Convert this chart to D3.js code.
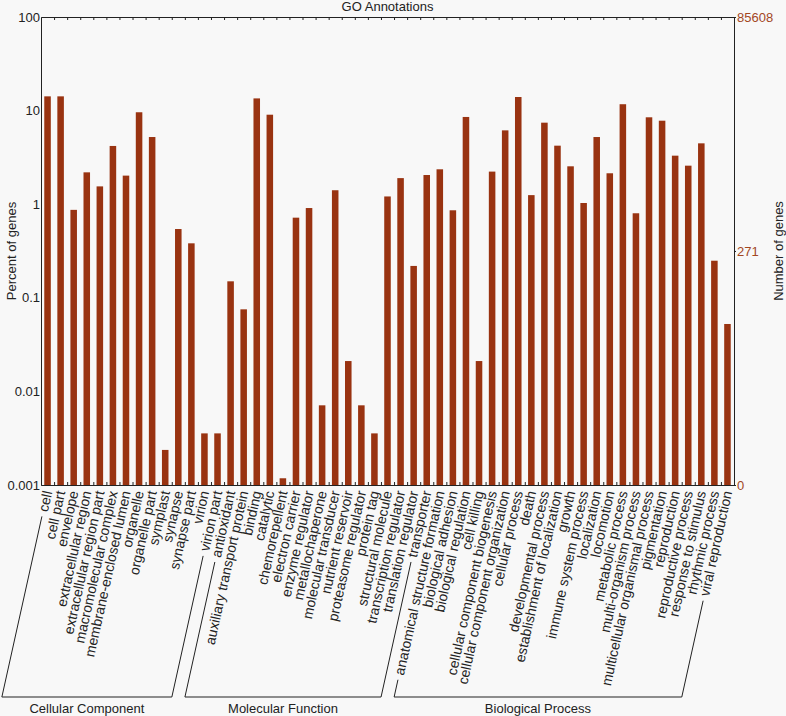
<!DOCTYPE html>
<html>
<head>
<meta charset="utf-8">
<script src="https://cdn.jsdelivr.net/npm/d3@7/dist/d3.min.js"></script>
<style>
  html, body { margin: 0; padding: 0; background: #f8f8f8; }
  svg { display: block; font-family: "Liberation Sans", Arial, Helvetica, sans-serif; }
</style>
</head>
<body>
<svg id="chart" width="786" height="716"></svg>
<script>
// ---------- data ----------
const categories = [
  "cell", "cell part", "envelope", "extracellular region", "extracellular region part",
  "macromolecular complex", "membrane-enclosed lumen", "organelle", "organelle part",
  "symplast", "synapse", "synapse part", "virion", "virion part",
  "antioxidant", "auxiliary transport protein", "binding", "catalytic", "chemorepellent",
  "electron carrier", "enzyme regulator", "metallochaperone", "molecular transducer",
  "nutrient reservoir", "proteasome regulator", "protein tag", "structural molecule",
  "transcription regulator", "translation regulator", "transporter",
  "anatomical structure formation", "biological adhesion", "biological regulation",
  "cell killing", "cellular component biogenesis", "cellular component organization",
  "cellular process", "death", "developmental process", "establishment of localization",
  "growth", "immune system process", "localization", "locomotion", "metabolic process",
  "multi-organism process", "multicellular organismal process", "pigmentation",
  "reproduction", "reproductive process", "response to stimulus", "rhythmic process",
  "viral reproduction"
];
const percentValues = [
  14.2, 14.2, 0.87, 2.19, 1.55,
  4.19, 2.02, 9.6, 5.22,
  0.00237, 0.543, 0.382, 0.00356, 0.00356,
  0.150, 0.0753, 13.5, 9.04, 0.00118,
  0.718, 0.91, 0.0071, 1.41,
  0.0211, 0.0071, 0.00356, 1.21,
  1.9, 0.219, 2.05,
  2.36, 0.861, 8.55,
  0.0211, 2.23, 6.15,
  13.97, 1.25, 7.43, 4.22,
  2.54, 1.03, 5.22, 2.14, 11.7,
  0.80, 8.48, 7.8,
  3.3, 2.58, 4.47, 0.249,
  0.0525
];
const groupNames = ["Cellular Component", "Molecular Function", "Biological Process"];
const groupSizes = [14, 16, 23];
const leftTicks = [100, 10, 1, 0.1, 0.01, 0.001];
const rightTicks = [85608, 271, 0];
const totalGenes = 85608;
const titleText = "GO Annotations";

// ---------- layout ----------
const svg = d3.select("#chart");
const W = 786, H = 716;
const L = 41, R = 734, T = 17, B = 485;
const barColor = "#993311";
const rightColor = "#a3471f";

svg.append("rect").attr("width", W).attr("height", H).attr("fill", "#f8f8f8");

const x = d3.scaleBand().domain(categories).range([L, R]).paddingInner(0.5).paddingOuter(0.25);
const y = d3.scaleLog().domain([0.001, 100]).range([B, T]);
const yCount = d3.scaleLog().domain([totalGenes * 0.001 / 100, totalGenes]).range([B, T]);
const xb = d3.scaleLinear().domain([0, categories.length]).range([L, R]);

// bars
svg.append("g").selectAll("rect").data(categories).join("rect")
  .attr("x", d => x(d))
  .attr("width", x.bandwidth())
  .attr("y", (d, i) => y(percentValues[i]))
  .attr("height", (d, i) => B - y(percentValues[i]))
  .attr("fill", barColor);

// frame ticks (top/bottom) at band boundaries
const boundaries = d3.range(1, categories.length);
svg.append("g").attr("transform", `translate(0,${T})`)
  .call(d3.axisTop(xb).tickValues(boundaries).tickSize(-3).tickFormat(""))
  .call(g => g.select(".domain").attr("stroke", "#222"))
  .call(g => g.selectAll(".tick line").attr("stroke", "#222"));
svg.append("g").attr("transform", `translate(0,${B})`)
  .call(d3.axisBottom(xb).tickValues(boundaries).tickSize(-3).tickFormat(""))
  .call(g => g.select(".domain").attr("stroke", "#222"))
  .call(g => g.selectAll(".tick line").attr("stroke", "#222"));

// left axis
svg.append("g").attr("transform", `translate(${L},0)`)
  .call(d3.axisLeft(y).tickValues(leftTicks).tickSize(0).tickPadding(1).tickFormat(d => String(d)))
  .call(g => g.select(".domain").attr("stroke", "#222"))
  .call(g => g.selectAll("text").attr("font-size", 13).attr("fill", "#222")
     .attr("font-family", "Liberation Sans, Arial, sans-serif"));

// right axis
svg.append("g").attr("transform", `translate(${R},0)`)
  .call(d3.axisRight(yCount)
    .tickValues(rightTicks.map(v => v > 0 ? v : yCount.domain()[0]))
    .tickSize(2).tickPadding(1)
    .tickFormat((d, i) => String(rightTicks[i])))
  .call(g => g.select(".domain").attr("stroke", "#222"))
  .call(g => g.selectAll(".tick line").attr("stroke", "#222"))
  .call(g => g.selectAll("text").attr("font-size", 13).attr("fill", rightColor)
     .attr("font-family", "Liberation Sans, Arial, sans-serif"));

// title
svg.append("text").attr("x", (L + R) / 2).attr("y", 11).attr("text-anchor", "middle")
  .attr("font-size", 13).attr("fill", "#222").text(titleText);

// axis titles
svg.append("text").attr("transform", `translate(16,${(T + B) / 2}) rotate(-90)`)
  .attr("text-anchor", "middle").attr("font-size", 13).attr("fill", "#222").text("Percent of genes");
svg.append("text").attr("transform", `translate(783,${(T + B) / 2}) rotate(-90)`)
  .attr("text-anchor", "middle").attr("font-size", 13).attr("fill", "#222").text("Number of genes");

// category labels
const ang = 77.5;
const rad = ang * Math.PI / 180;
const dirX = Math.cos(rad), dirY = Math.sin(rad);
const labY = 491;
const labels = svg.append("g").selectAll("text").data(categories).join("text")
  .attr("transform", d => `translate(${x(d) + x.bandwidth() / 2},${labY}) rotate(${-ang})`)
  .attr("text-anchor", "end")
  .attr("dy", "0.35em")
  .attr("font-size", 14)
  .attr("fill", "#222")
  .text(d => d);

const lens = [];
labels.each(function () { lens.push(this.getComputedTextLength()); });

// group brackets
const baseY = 697;
const gap = 5;
let start = 0;
groupNames.forEach((name, gi) => {
  const first = start, last = start + groupSizes[gi] - 1;
  const pts = [first, last].map(i => {
    const cx = x(categories[i]) + x.bandwidth() / 2;
    const u0 = lens[i] + gap;
    const top = [cx - u0 * dirX, labY + u0 * dirY];
    const uB = (baseY - labY) / dirY;
    const bot = [cx - uB * dirX, baseY];
    return { top, bot };
  });
  const path = d3.path();
  path.moveTo(pts[0].top[0], pts[0].top[1]);
  path.lineTo(pts[0].bot[0], pts[0].bot[1]);
  path.lineTo(pts[1].bot[0], pts[1].bot[1]);
  path.lineTo(pts[1].top[0], pts[1].top[1]);
  svg.append("path").attr("d", path.toString()).attr("fill", "none")
    .attr("stroke", "#222").attr("stroke-width", 1);
  svg.append("text").attr("x", (pts[0].bot[0] + pts[1].bot[0]) / 2).attr("y", 713)
    .attr("text-anchor", "middle").attr("font-size", 13).attr("fill", "#222").text(name);
  start = last + 1;
});
</script>
</body>
</html>
